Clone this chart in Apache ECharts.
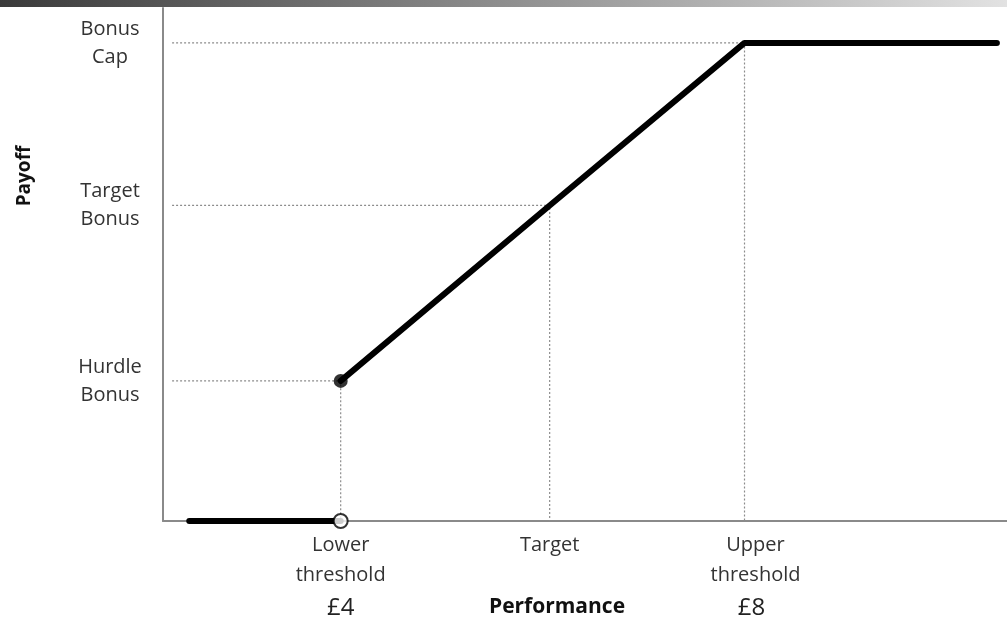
<!DOCTYPE html>
<html>
<head>
<meta charset="utf-8">
<script src="https://cdn.jsdelivr.net/npm/echarts@6/dist/echarts.min.js"></script>
<style>
  html, body { margin: 0; padding: 0; background: #fff; }
  #chart { width: 1007px; height: 621px; }
</style>
</head>
<body>
<div id="chart"></div>
<script>
// performance (£) on x, payoff (relative, cap = 100) on y
const xTickValues = [4, 6.07, 8];
const xTickNames = ['Lower\nthreshold', 'Target', 'Upper\nthreshold'];
const xTickPrices = ['£4', '', '£8'];
const yTickValues = [29.3, 66, 100];
const yTickNames = ['Hurdle\nBonus', 'Target\nBonus', 'Bonus\nCap'];
const belowHurdle = [[2.5, 0], [4, 0]];
const payoffLine = [[4, 29.3], [6.07, 66], [8, 100], [10.5, 100]];

const X_MIN = 2.24, X_MAX = 10.6, Y_MAX = 107.3;
const guideStart = X_MIN + 0.09;
const FONT = '"Open Sans", sans-serif';

// dotted guide lines from the y axis to each kink and down to the x axis
const guides = payoffLine.slice(0, 3).map(p => ({
    type: 'line',
    data: [[guideStart, p[1]], p, [p[0], 0]],
    symbol: 'none',
    silent: true,
    z: 1,
    lineStyle: { color: '#8c8c8c', width: 1.2, type: [2, 2] }
}));

const chart = echarts.init(document.getElementById('chart'));
chart.setOption({
    animation: false,
    grid: { left: 163, right: 0, top: 8, bottom: 100 },
    xAxis: {
        type: 'value',
        min: X_MIN,
        max: X_MAX,
        splitLine: { show: false },
        axisTick: { show: false },
        axisLine: { lineStyle: { color: '#8a8a8a', width: 2 } },
        axisLabel: {
            customValues: xTickValues,
            margin: 9,
            formatter: v => {
                const i = xTickValues.indexOf(v);
                if (i < 0) return '';
                const lines = xTickNames[i].split('\n').map(s => '{a|' + s + '}');
                if (xTickPrices[i]) lines.push('{p|' + xTickPrices[i] + '}');
                const txt = lines.join('\n');
                return i === 2 ? txt.replace(/\{a\|/g, '{u|').replace(/\{p\|/g, '{q|') : txt;
            },
            rich: {
                a: { fontFamily: FONT, fontSize: 20, color: '#333', lineHeight: 30 },
                p: { fontFamily: FONT, fontSize: 24, color: '#222', lineHeight: 36 },
                u: { fontFamily: FONT, fontSize: 20, color: '#333', lineHeight: 30, padding: [0, 0, 0, 22] },
                q: { fontFamily: FONT, fontSize: 24, color: '#222', lineHeight: 36, padding: [0, 0, 0, 14] }
            }
        }
    },
    yAxis: {
        type: 'value',
        min: 0,
        max: Y_MAX,
        splitLine: { show: false },
        axisTick: { show: false },
        axisLine: { show: true, lineStyle: { color: '#8a8a8a', width: 2 } },
        axisLabel: {
            customValues: yTickValues,
            margin: 53,
            align: 'center',
            fontFamily: FONT,
            fontSize: 20,
            lineHeight: 28,
            color: '#333',
            formatter: v => {
                const i = yTickValues.indexOf(v);
                return i < 0 ? '' : yTickNames[i];
            }
        }
    },
    graphic: [
        {
            type: 'rect',
            left: 0, top: 0,
            shape: { width: 1007, height: 7 },
            style: {
                fill: new echarts.graphic.LinearGradient(0, 0, 1, 0, [
                    { offset: 0, color: '#3a3a3a' },
                    { offset: 1, color: '#e2e2e2' }
                ])
            }
        },
        {
            type: 'text',
            x: 25, y: 176,
            rotation: Math.PI / 2,
            style: {
                text: 'Payoff', fontFamily: FONT, fontSize: 19, fontWeight: 'bold',
                fill: '#111', align: 'center', verticalAlign: 'middle'
            }
        },
        {
            type: 'text',
            x: 557, y: 607,
            style: {
                text: 'Performance', fontFamily: FONT, fontSize: 21, fontWeight: 'bold',
                fill: '#111', align: 'center', verticalAlign: 'middle'
            }
        }
    ],
    series: [
        ...guides,
        {
            type: 'line',
            data: belowHurdle,
            symbol: 'none',
            z: 3,
            lineStyle: { color: '#000', width: 6, cap: 'round' }
        },
        {
            type: 'line',
            data: payoffLine,
            symbol: 'none',
            z: 3,
            lineStyle: { color: '#000', width: 6, cap: 'round', join: 'round' }
        },
        {
            // open circle: hurdle not yet reached
            type: 'scatter',
            data: [belowHurdle[1]],
            symbol: 'circle',
            symbolSize: 14,
            z: 4,
            itemStyle: { color: '#fff', borderColor: '#000', borderWidth: 2 }
        },
        {
            // filled dot: hurdle bonus paid
            type: 'scatter',
            data: [payoffLine[0]],
            symbol: 'circle',
            symbolSize: 14,
            z: 4,
            itemStyle: { color: '#000' }
        }
    ]
});
</script>
</body>
</html>
